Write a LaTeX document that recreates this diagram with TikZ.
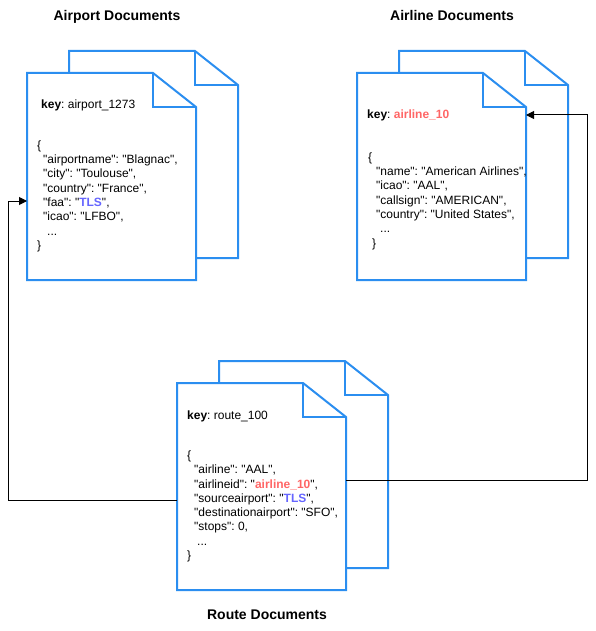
\documentclass[tikz,border=0pt]{standalone}
\usepackage{fontspec}
\setmainfont{Liberation Sans}[Ligatures=TeXOff]
\usetikzlibrary{arrows.meta}
\definecolor{docblue}{HTML}{2B8EF0}
\definecolor{keyred}{HTML}{FF6666}
\definecolor{tlsblue}{HTML}{6666FF}
\frenchspacing
\newcommand\docpair[3]{%
 \draw[doc] (#2+42,#3-22) -- ++(126,0) -- ++(43,34) -- ++(0,173) -- ++(-169,0) -- cycle;
 \draw[doc, fill=none] (#2+168,#3-22) -- ++(0,34) -- ++(43,0);
 \draw[doc] (#2,#3) -- ++(126,0) -- ++(43,34) -- ++(0,173) -- ++(-169,0) -- cycle;
 \draw[doc, fill=none] (#2+126,#3) -- ++(0,34) -- ++(43,0);
 \node[minimum width=169pt, minimum height=207pt, anchor=north west, inner sep=0pt] (#1) at (#2,#3) {};
}
\begin{document}
\begin{tikzpicture}[x=1pt,y=-1pt,
  doc/.style={draw=docblue, line width=2pt, fill=white, line join=miter},
  title/.style={font=\fontsize{14}{16}\selectfont\bfseries\frenchspacing, anchor=base, inner sep=0pt},
  body/.style={font=\fontsize{12}{14.3}\selectfont\frenchspacing, align=left, anchor=north west, inner sep=0pt},
  keytxt/.style={font=\fontsize{12}{14}\selectfont\frenchspacing, anchor=base west, inner sep=0pt},
  link/.style={draw=black, line width=1pt, -{Triangle[length=8pt,width=8pt]}}
]
\useasboundingbox (0,0) rectangle (596,631);

\docpair{airport}{27}{73}
\docpair{airline}{357}{73}
\docpair{route}{177}{383}

\node[title] (t1) at (117,21) {Airport Documents};
\node[title] (t2) at (452,21) {Airline Documents};
\node[title] (t3) at (267,619) {Route Documents};

\node[keytxt] (k1) at (41,109) {\textbf{key}: airport\_1273};
\node[keytxt] (k2) at (367,119) {\textbf{key}: \textcolor{keyred}{\textbf{airline\_10}}};
\node[keytxt] (k3) at (187,419) {\textbf{key}: route\_100};

\node[body] (b1) at (37,140.5) {\{\\
\hspace*{6pt}"airportname": "Blagnac",\\
\hspace*{6pt}"city": "Toulouse",\\
\hspace*{6pt}"country": "France",\\
\hspace*{6pt}"faa": "\textcolor{tlsblue}{\textbf{TLS}}",\\
\hspace*{6pt}"icao": "LFBO",\\
\hspace*{10pt}...\\
\}};

\node[body] (b2) at (368,152.5) {\{\\
\hspace*{8pt}"name": "American Airlines",\\
\hspace*{8pt}"icao": "AAL",\\
\hspace*{8pt}"callsign": "AMERICAN",\\
\hspace*{8pt}"country": "United States",\\
\hspace*{12pt}...\\
\hspace*{4pt}\}};

\node[body] (b3) at (187,450.5) {\{\\
\hspace*{7pt}"airline": "AAL",\\
\hspace*{7pt}"airlineid": "\textcolor{keyred}{\textbf{airline\_10}}",\\
\hspace*{7pt}"sourceairport": "\textcolor{tlsblue}{\textbf{TLS}}",\\
\hspace*{7pt}"destinationairport": "SFO",\\
\hspace*{7pt}"stops": 0,\\
\hspace*{10pt}...\\
\}};

\coordinate (rl) at (177,500);
\coordinate (lc) at (8,500);
\coordinate (al) at (27,201);
\draw[link] (rl) -- (lc) |- (al);

\coordinate (rr) at (346,480);
\coordinate (rc) at (587,480);
\coordinate (ar) at (526,115);
\draw[link] (rr) -- (rc) |- (ar);
\end{tikzpicture}
\end{document}
